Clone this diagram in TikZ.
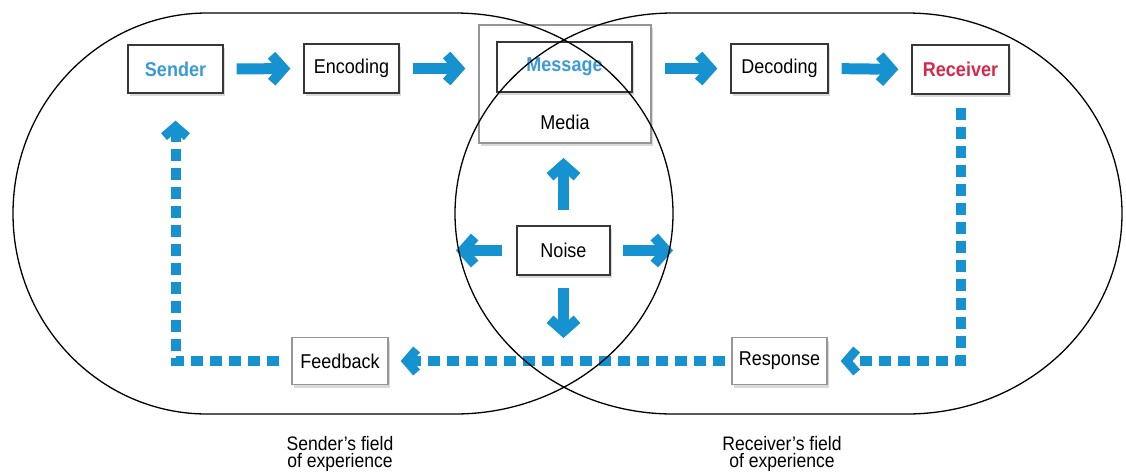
\documentclass[tikz,border=0pt]{standalone}
\usepackage{fontspec}
\setmainfont{Liberation Sans}[FakeStretch=0.9]
\usetikzlibrary{arrows.meta,shadows}
\definecolor{ablue}{RGB}{22,146,208}
\definecolor{tblue}{RGB}{58,155,214}
\definecolor{tred}{RGB}{214,40,74}
\definecolor{bdark}{RGB}{55,55,55}
\definecolor{blight}{RGB}{150,150,150}
\begin{document}
\begin{tikzpicture}[x=1pt,y=-1pt,
  box/.style={draw=bdark, line width=1.3pt, fill=white, inner sep=0pt,
    font=\fontsize{20}{22}\selectfont,
    drop shadow={shadow xshift=2pt,shadow yshift=-3pt,opacity=0.3}},
  lightbox/.style={box, draw=blight},
  boldtext/.style={font=\fontsize{20}{22}\selectfont\bfseries},
  flow/.style={ablue, line width=11pt,
    -{Straight Barb[length=12pt,width=27pt,line width=10pt]},
    shorten <=13pt, shorten >=13pt},
  back/.style={ablue, line width=10pt, dash pattern=on 12pt off 7pt,
    -{Straight Barb[length=10pt,width=23pt,line width=9pt]}},
  field/.style={align=center, font=\fontsize{19.5}{17.5}\selectfont},
  oval/.style={draw=black, line width=1.3pt}
]
\useasboundingbox (0,0) rectangle (1126,475);

% boxes
\node[box, boldtext, text=tblue, minimum width=95pt, minimum height=48pt] (sender) at (175.5,69) {Sender};
\node[box, minimum width=95pt, minimum height=49pt] (encoding) at (351.5,68.5) {Encoding};
\node[lightbox, minimum width=172pt, minimum height=118pt] (media) at (565,84) {};
\node[box, boldtext, text=tblue, minimum width=135pt, minimum height=50pt] (message) at (564.5,67) {Message};
\node[font=\fontsize{20}{22}\selectfont] (medialabel) at (565,122) {Media};
\node[box, minimum width=97pt, minimum height=49pt] (decoding) at (779.5,68.5) {Decoding};
\node[box, boldtext, text=tred, minimum width=97pt, minimum height=49pt] (receiver) at (960.5,69.5) {Receiver};
\node[box, minimum width=93pt, minimum height=49pt] (noise) at (563.5,250.5) {Noise};
\node[lightbox, minimum width=96pt, minimum height=47pt] (feedback) at (340,361) {Feedback};
\node[lightbox, minimum width=95pt, minimum height=47pt] (response) at (779.5,361) {Response};

% field labels
\node[field] (sfield) at (340,454) {Sender’s field\\of experience};
\node[field] (rfield) at (782,454) {Receiver’s field\\of experience};

% forward arrows
\draw[flow] (sender.east) -- (encoding.west);
\draw[flow] (encoding.east) -- (encoding.east -| media.west);
\draw[flow] (decoding.west -| media.east) -- (decoding.west);
\draw[flow] (decoding.east) -- (receiver.west);

% noise arrows
\coordinate (nup) at (563.5,158);
\coordinate (ndown) at (563.5,338);
\coordinate (nleft) at (456,250.5);
\coordinate (nright) at (673,250.5);
\draw[flow, shorten >=0pt, shorten <=15pt] (noise.north) -- (nup);
\draw[flow, shorten >=0pt, shorten <=12pt] (noise.south) -- (ndown);
\draw[flow, shorten >=0pt, shorten <=14pt] (noise.west) -- (nleft);
\draw[flow, shorten >=0pt, shorten <=12pt] (noise.east) -- (nright);

% feedback loop (dashed)
\draw[back, shorten <=13pt, shorten >=13pt] (receiver.south) -- (receiver.south |- response.east) -- (response.east);
\draw[back, shorten <=6pt, shorten >=12pt] (response.west) -- (feedback.east);
\draw[back, shorten <=12pt, shorten >=27pt] (feedback.west) -- (feedback.west -| sender.south) -- (sender.south);

% fields of experience
\draw[oval] (207,13) -- (455,13) .. controls (575.4,13) and (673,102.8) .. (673,213.5)
  .. controls (673,324.2) and (575.4,414) .. (455,414) -- (207,414)
  .. controls (99.9,414) and (13,324.2) .. (13,213.5)
  .. controls (13,102.8) and (99.9,13) .. (207,13) -- cycle;
\draw[oval] (673,13) -- (907,13) .. controls (1025.7,13) and (1122,102.8) .. (1122,213.5)
  .. controls (1122,324.2) and (1025.7,414) .. (907,414) -- (673,414)
  .. controls (552.6,414) and (455,324.2) .. (455,213.5)
  .. controls (455,102.8) and (552.6,13) .. (673,13) -- cycle;
\end{tikzpicture}
\end{document}
